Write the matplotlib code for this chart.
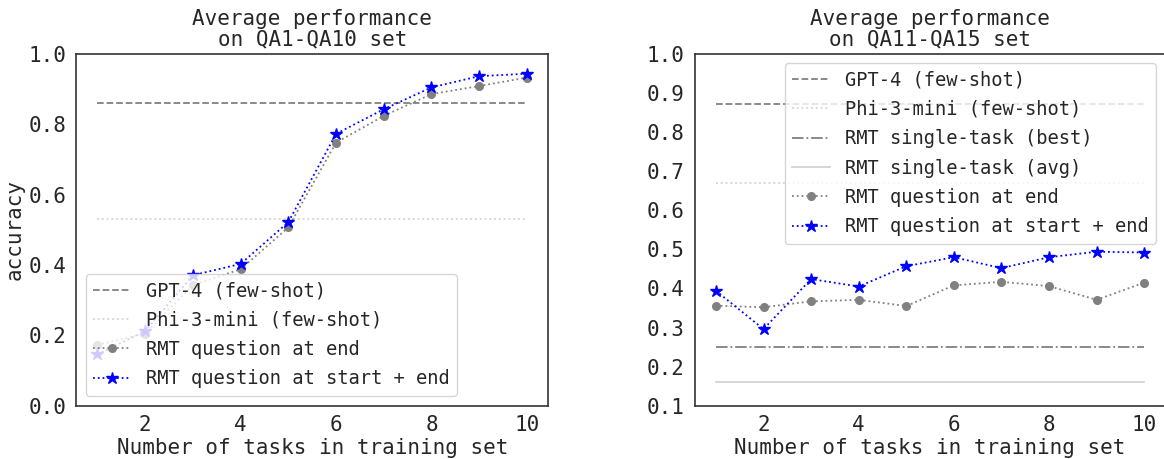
import matplotlib
matplotlib.use("Agg")
import matplotlib.pyplot as plt
import numpy as np

# ---- data ----
tasks = [1, 2, 3, 4, 5, 6, 7, 8, 9, 10]

# Left panel: QA1-QA10
gpt4_qa1_10 = 0.862
phi3_qa1_10 = 0.531
q_end_qa1_10 = [0.173, 0.205, 0.343, 0.388, 0.507, 0.748, 0.824, 0.886, 0.909, 0.933]
q_start_end_qa1_10 = [0.146, 0.212, 0.371, 0.403, 0.522, 0.773, 0.843, 0.905, 0.937, 0.944]

# Right panel: QA11-QA15
gpt4_qa11_15 = 0.871
phi3_qa11_15 = 0.671
single_best_qa11_15 = 0.251
single_avg_qa11_15 = 0.161
q_end_qa11_15 = [0.356, 0.352, 0.367, 0.371, 0.355, 0.408, 0.417, 0.406, 0.371, 0.415]
q_start_end_qa11_15 = [0.394, 0.296, 0.424, 0.405, 0.457, 0.480, 0.452, 0.480, 0.494, 0.492]

titles = ["Average performance\non QA1-QA10 set", "Average performance\non QA11-QA15 set"]
xlabel = "Number of tasks in training set"

plt.rcParams['font.family'] = ['DejaVu Sans Mono']
plt.rcParams['text.color'] = '#262626'
plt.rcParams['axes.labelcolor'] = '#262626'
plt.rcParams['xtick.color'] = '#262626'
plt.rcParams['ytick.color'] = '#262626'

W, H = 1164, 459
fig = plt.figure(figsize=(W / 100, H / 100), dpi=100)

def px_axes(x0, x1, y0, y1):
    return fig.add_axes([x0 / W, (H - y1) / H, (x1 - x0) / W, (y1 - y0) / H])

ax1 = px_axes(76, 548.4, 54, 405.7)
ax2 = px_axes(694.5, 1165.7, 54, 405.7)

n = len(tasks)
for ax in (ax1, ax2):
    for s in ax.spines.values():
        s.set_color('#333333')
        s.set_linewidth(1.2)
    ax.tick_params(length=0, pad=7, labelsize=15)
    ax.set_xlim(0.55, 10.45)
    ax.set_xticks([2, 4, 6, 8, 10])
    ax.set_xlabel(xlabel, fontsize=15, labelpad=2)

leg_kw = dict(fontsize=13.5, framealpha=0.8, borderaxespad=0, labelspacing=0.55)

# left
ax1.plot(tasks, [gpt4_qa1_10] * n, ls='--', color='gray', lw=1.3, label='GPT-4 (few-shot)')
ax1.plot(tasks, [phi3_qa1_10] * n, ls=':', color='lightgray', lw=1.3, label='Phi-3-mini (few-shot)')
ax1.plot(tasks, q_end_qa1_10, ls=':', color='gray', marker='o', ms=5.5, lw=1.3, label='RMT question at end')
ax1.plot(tasks, q_start_end_qa1_10, ls=':', color='blue', marker='*', ms=9, lw=1.3, label='RMT question at start + end')
ax1.set_ylim(0, 1.0)
yt1 = np.round(np.arange(0, 1.01, 0.2), 1)
ax1.set_yticks(yt1)
ax1.set_yticklabels([f"{v:.1f}" for v in yt1])
ax1.set_ylabel('accuracy', fontsize=15)
ax1.yaxis.set_label_coords(-0.108, 0.5)
ax1.set_title(titles[0], fontsize=15, pad=6, linespacing=1.05)
ax1.legend(loc='lower left', bbox_to_anchor=(0.0205, 0.028), **leg_kw)

# right
ax2.plot(tasks, [gpt4_qa11_15] * n, ls='--', color='gray', lw=1.3, label='GPT-4 (few-shot)')
ax2.plot(tasks, [phi3_qa11_15] * n, ls=':', color='lightgray', lw=1.3, label='Phi-3-mini (few-shot)')
ax2.plot(tasks, [single_best_qa11_15] * n, ls='-.', color='gray', lw=1.3, label='RMT single-task (best)')
ax2.plot(tasks, [single_avg_qa11_15] * n, ls='-', color='lightgray', lw=1.3, label='RMT single-task (avg)')
ax2.plot(tasks, q_end_qa11_15, ls=':', color='gray', marker='o', ms=5.5, lw=1.3, label='RMT question at end')
ax2.plot(tasks, q_start_end_qa11_15, ls=':', color='blue', marker='*', ms=9, lw=1.3, label='RMT question at start + end')
ax2.set_ylim(0.1, 1.0)
yt = np.round(np.arange(0.1, 1.01, 0.1), 1)
ax2.set_yticks(yt)
ax2.set_yticklabels([f"{v:.1f}" for v in yt])
ax2.set_title(titles[1], fontsize=15, pad=6, linespacing=1.05)
ax2.legend(loc='upper right', bbox_to_anchor=(0.979, 0.974), **leg_kw)

fig.savefig('out.png', dpi=100)
